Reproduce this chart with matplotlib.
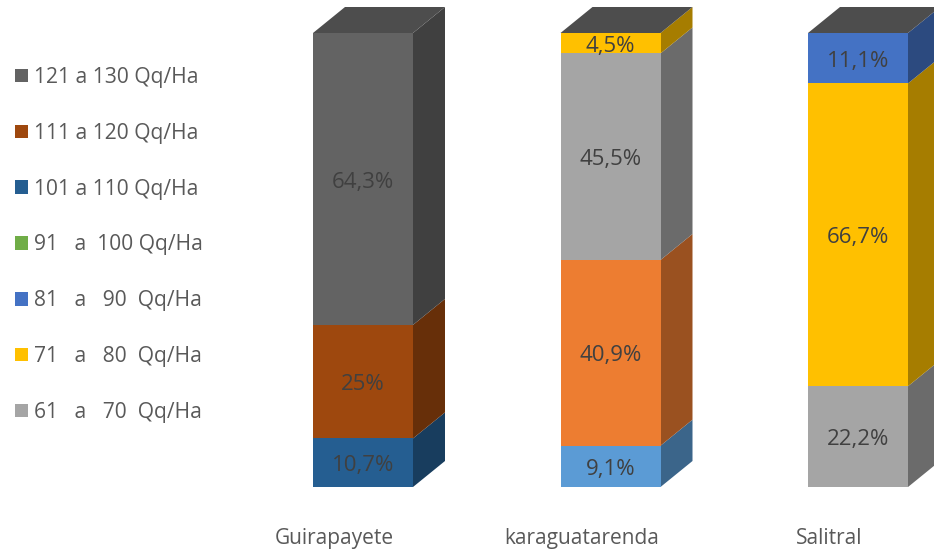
import matplotlib
matplotlib.use('Agg')
import matplotlib.pyplot as plt
from matplotlib.patches import Patch, Polygon
import numpy as np

plt.rcParams['font.family'] = ['Open Sans', 'DejaVu Sans']

categories = ['Guirapayete', 'karaguatarenda', 'Salitral']

# stacked bottom to top, two lowest series have no entry in the legend
series_names = ['', '', '61   a   70  Qq/Ha', '71   a   80  Qq/Ha', '81   a   90  Qq/Ha',
                '91   a  100 Qq/Ha', '101 a 110 Qq/Ha', '111 a 120 Qq/Ha', '121 a 130 Qq/Ha']
serie_a = [0, 9.1, 0]
serie_b = [0, 40.9, 0]
serie_61 = [0, 45.5, 22.2]
serie_71 = [0, 4.5, 66.7]
serie_81 = [0, 0, 11.1]
serie_91 = [0, 0, 0]
serie_101 = [10.7, 0, 0]
serie_111 = [25, 0, 0]
serie_121 = [64.3, 0, 0]
values = [serie_a, serie_b, serie_61, serie_71, serie_81, serie_91, serie_101, serie_111, serie_121]
labels = [
    [None, '9,1%', None],
    [None, '40,9%', None],
    [None, '45,5%', '22,2%'],
    [None, '4,5%', '66,7%'],
    [None, None, '11,1%'],
    [None, None, None],
    ['10,7%', None, None],
    ['25%', None, None],
    ['64,3%', None, None],
]
colors = ['#5B9BD5', '#ED7D31', '#A5A5A5', '#FFC000', '#4472C4',
          '#70AD47', '#255E91', '#9E480E', '#636363']

W, H = 934, 552
fig = plt.figure(figsize=(W / 100, H / 100), dpi=100)
ax = fig.add_axes([0, (H - 487) / H, 1, 454 / H])

# one category step is 247.5 px, 100 % is 454 px
step = 247.5
ax.set_xlim(-363 / step, (W - 363) / step)
ax.set_ylim(0, 100)
bar_w = 100 / step
dx = 32 / step
dy = 26 / 4.54
x = np.arange(len(categories))


def shade(c, f):
    rgb = np.array(matplotlib.colors.to_rgb(c))
    return tuple(rgb * f)


bottom = np.zeros(len(categories))
for vals, col, labs in zip(values, colors, labels):
    vals = np.array(vals, dtype=float)
    ax.bar(x, vals, bar_w, bottom=bottom, color=col, clip_on=False, zorder=3)
    for xi, v, b, lab in zip(x, vals, bottom, labs):
        if v == 0:
            continue
        r = xi + bar_w / 2
        ax.add_patch(Polygon([(r, b), (r + dx, b + dy), (r + dx, b + v + dy), (r, b + v)],
                             closed=True, fc=shade(col, 0.65), ec='none', zorder=2, clip_on=False))
        ax.annotate(lab, (xi, b + v / 2), xytext=(0, -2.2), textcoords='offset points',
                    ha='center', va='center', fontsize=16, color='#404040', zorder=5)
    bottom = bottom + vals

# top faces
for xi, t in zip(x, bottom):
    l, r = xi - bar_w / 2, xi + bar_w / 2
    ax.add_patch(Polygon([(l, t), (l + dx, t + dy), (r + dx, t + dy), (r, t)],
                         closed=True, fc='#4D4D4D', ec='none', zorder=2, clip_on=False))

for s in ax.spines.values():
    s.set_visible(False)
ax.set_yticks([])
ax.set_xticks(x - 29 / step)
ax.set_xticklabels(categories, fontsize=15, color='#595959')
ax.tick_params(axis='x', length=0, pad=29.5)
ax.patch.set_alpha(0)

handles = [Patch(fc=c, ec='none', label=n) for c, n in zip(colors, series_names) if n]
leg = fig.legend(handles=handles[::-1], loc='upper left', bbox_to_anchor=(15 / W, 1 - 67 / H),
                 frameon=False, fontsize=15.1, labelcolor='#595959', handlelength=0.62,
                 handleheight=0.62, handletextpad=0.3, labelspacing=1.66, borderaxespad=0, borderpad=0)

fig.savefig('out.png', dpi=100)
